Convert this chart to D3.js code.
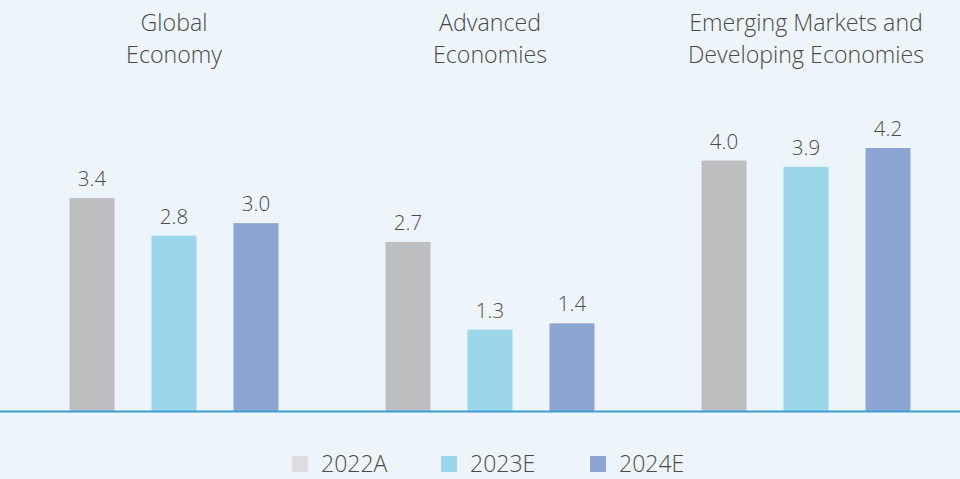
<!DOCTYPE html>
<html>
<head>
<meta charset="utf-8">
<script src="https://cdn.jsdelivr.net/npm/d3@7"></script>
<style>
body { margin: 0; background: #edf5fb; }
svg { display: block; font-family: "Open Sans", "Noto Sans", sans-serif; font-weight: 300; }
text { fill: #4a4a4a; }
</style>
</head>
<body>
<svg width="960" height="479"></svg>
<script>
var groups = ["Global Economy", "Advanced Economies", "Emerging Markets and Developing Economies"];
var groupTitles = [["Global", "Economy"], ["Advanced", "Economies"], ["Emerging Markets and", "Developing Economies"]];
var series = ["2022A", "2023E", "2024E"];
var v2022 = [3.4, 2.7, 4.0];
var v2023 = [2.8, 1.3, 3.9];
var v2024 = [3.0, 1.4, 4.2];
var colors = ["#bdbec0", "#9bd6ea", "#8ca5d3"];
var legendColors = ["#dcdddf", "#9bd6ea", "#8ca5d3"];

var values = [v2022, v2023, v2024];
var data = groups.map(function(g, i) {
  return { group: g, titles: groupTitles[i], vals: series.map(function(s, j) { return { s: s, v: values[j][i], c: colors[j] }; }) };
});

var svg = d3.select("svg");
var baseY = 411;

var x0 = d3.scaleBand().domain(groups).range([16, 964]);
var x1 = d3.scaleBand().domain(series).range([-104.5, 104.5]).paddingInner(0.451);
var y = d3.scaleLinear().domain([0, 4.2]).range([baseY, baseY - 263]);

var g = svg.selectAll(".grp")
  .data(data)
  .enter()
  .append("g")
  .attr("class", "grp")
  .attr("transform", function(d) { return "translate(" + (x0(d.group) + x0.bandwidth() / 2) + ",0)"; });

// titles
g.each(function(d) {
  var t = d3.select(this).append("text")
    .attr("text-anchor", "middle")
    .style("font-size", "23.2px");
  d.titles.forEach(function(line, i) {
    t.append("tspan").attr("x", 0).attr("y", 31 + i * 32).text(line);
  });
});

g.selectAll("rect")
  .data(function(d) { return d.vals; })
  .enter()
  .append("rect")
  .attr("x", function(d) { return x1(d.s); })
  .attr("y", function(d) { return y(d.v); })
  .attr("width", x1.bandwidth())
  .attr("height", function(d) { return baseY - y(d.v); })
  .attr("fill", function(d) { return d.c; });

g.selectAll(".lbl")
  .data(function(d) { return d.vals; })
  .enter()
  .append("text")
  .attr("class", "lbl")
  .attr("text-anchor", "middle")
  .attr("x", function(d) { return x1(d.s) + x1.bandwidth() / 2; })
  .attr("y", function(d) { return y(d.v) - 12; })
  .style("font-size", "20.5px")
  .text(function(d) { return d.v.toFixed(1); });

// baseline
svg.append("line")
  .attr("x1", 0).attr("x2", 960)
  .attr("y1", baseY + 0.5).attr("y2", baseY + 0.5)
  .attr("stroke", "#3d9dd1")
  .attr("stroke-width", 2);

// legend
var leg = svg.selectAll(".leg")
  .data(series)
  .enter()
  .append("g")
  .attr("class", "leg")
  .attr("transform", function(d, i) { return "translate(" + (292 + i * 149) + ",456)"; });

leg.append("rect")
  .attr("width", 16).attr("height", 16)
  .attr("fill", function(d, i) { return legendColors[i]; });

leg.append("text")
  .attr("x", 29)
  .attr("y", 16)
  .style("font-size", "23px")
  .text(function(d) { return d; });
</script>
</body>
</html>
